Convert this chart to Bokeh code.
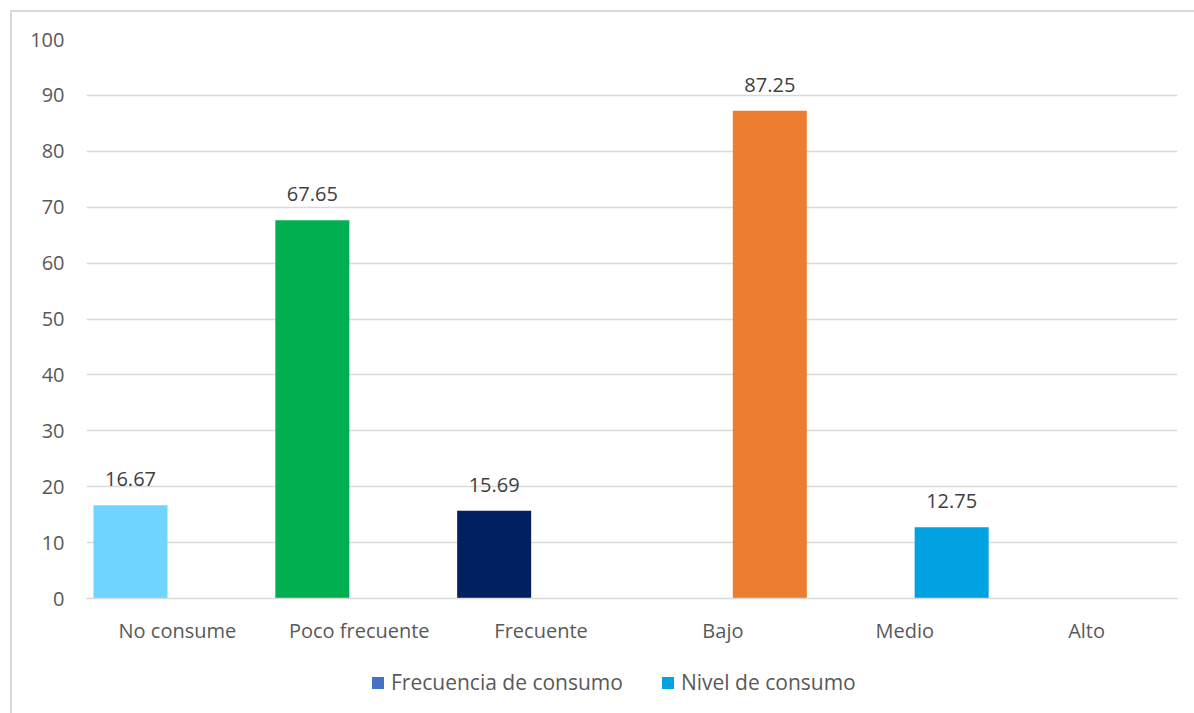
from bokeh.plotting import figure
from bokeh.layouts import column
from bokeh.models import (ColumnDataSource, FactorRange, LabelSet, Legend, LegendItem,
                          Range1d, FixedTicker)
from bokeh.core.properties import value
from bokeh.transform import dodge
from bokeh.embed import file_html
from bokeh.resources import INLINE

categories = ["No consume", "Poco frecuente", "Frecuente", "Bajo", "Medio", "Alto"]
frecuencia = [16.67, 67.65, 15.69, None, None, None]
nivel = [None, None, None, 87.25, 12.75, None]
frecuencia_colors = ["#6FD4FF", "#00B050", "#002060", "#4472C4", "#4472C4", "#4472C4"]
nivel_colors = ["#00A2E2", "#00A2E2", "#00A2E2", "#ED7D31", "#00A2E2", "#00A2E2"]
series_names = ["Frecuencia de consumo", "Nivel de consumo"]
legend_colors = ["#4472C4", "#00A2E2"]
y_ticks = list(range(0, 101, 10))

FONT = "Open Sans"
TXT = "#595959"
GRID = "#D9D9D9"
FS = "20px"


def build_source(vals, colors):
    c, v, col, lab = [], [], [], []
    for cat, val, color in zip(categories, vals, colors):
        if val is None:
            continue
        c.append(cat)
        v.append(val)
        col.append(color)
        lab.append(f"{val:.2f}")
    return ColumnDataSource(dict(cat=c, val=v, color=col, label=lab))


src_f = build_source(frecuencia, frecuencia_colors)
src_n = build_source(nivel, nivel_colors)

p = figure(x_range=FactorRange(*categories, range_padding=0), y_range=Range1d(0, 100),
           width=1184, height=650, output_backend="svg", toolbar_location=None,
           min_border_left=74, min_border_right=19, min_border_top=27, min_border_bottom=64)
p.outline_line_color = None

off = 0.258
w = 0.407
p.vbar(x=dodge("cat", -off, range=p.x_range), top="val", width=w, color="color",
       line_color=None, source=src_f)
p.vbar(x=dodge("cat", off, range=p.x_range), top="val", width=w, color="color",
       line_color=None, source=src_n)

for src, o in ((src_f, -off), (src_n, off)):
    p.add_layout(LabelSet(x=dodge("cat", o, range=p.x_range), y="val", text="label", source=src,
                          y_offset=19, text_align="center", text_baseline="bottom",
                          text_font=value(FONT), text_font_size=value(FS),
                          text_color="#404040"))

p.xgrid.grid_line_color = None
p.ygrid.grid_line_color = GRID
p.ygrid.grid_line_width = 1.5
p.yaxis.ticker = FixedTicker(ticks=y_ticks)
p.yaxis.axis_line_color = None
p.yaxis.major_tick_line_color = None
p.yaxis.minor_tick_line_color = None
p.yaxis.major_tick_out = 0
p.yaxis.major_label_standoff = 22
p.xaxis.axis_line_color = GRID
p.xaxis.axis_line_width = 1.5
p.xaxis.major_tick_line_color = None
p.xaxis.major_tick_out = 0
p.xaxis.major_label_standoff = 18
for ax in (p.xaxis, p.yaxis):
    ax.major_label_text_font = FONT
    ax.major_label_text_font_size = FS
    ax.major_label_text_color = TXT

# legend panel
pl = figure(width=1184, height=51, output_backend="svg", toolbar_location=None,
            x_range=Range1d(0, 1), y_range=Range1d(0, 1),
            x_axis_location=None, y_axis_location=None,
            min_border_left=0, min_border_right=0, min_border_top=0, min_border_bottom=0)
pl.outline_line_color = None
pl.grid.grid_line_color = None
items = []
for name, color in zip(series_names, legend_colors):
    r = pl.vbar(x=[0.5], top=[float("nan")], width=0.1, color=color, line_color=None)
    items.append(LegendItem(label=name, renderers=[r]))
legend = Legend(items=items, orientation="horizontal", location=(284, 17),
                label_text_font=FONT, label_text_font_size="21px", label_text_color=TXT,
                glyph_width=15, glyph_height=15, spacing=37, label_standoff=6,
                label_height=20, border_line_color=None, background_fill_alpha=0,
                padding=0, margin=0)
pl.add_layout(legend, "center")

layout = column(p, pl, spacing=0, margin=(10, 0, 0, 10))
layout.styles = {"border-left": "2px solid #D9D9D9", "border-top": "2px solid #D9D9D9"}

open("out.html", "w").write(file_html(layout, INLINE))
